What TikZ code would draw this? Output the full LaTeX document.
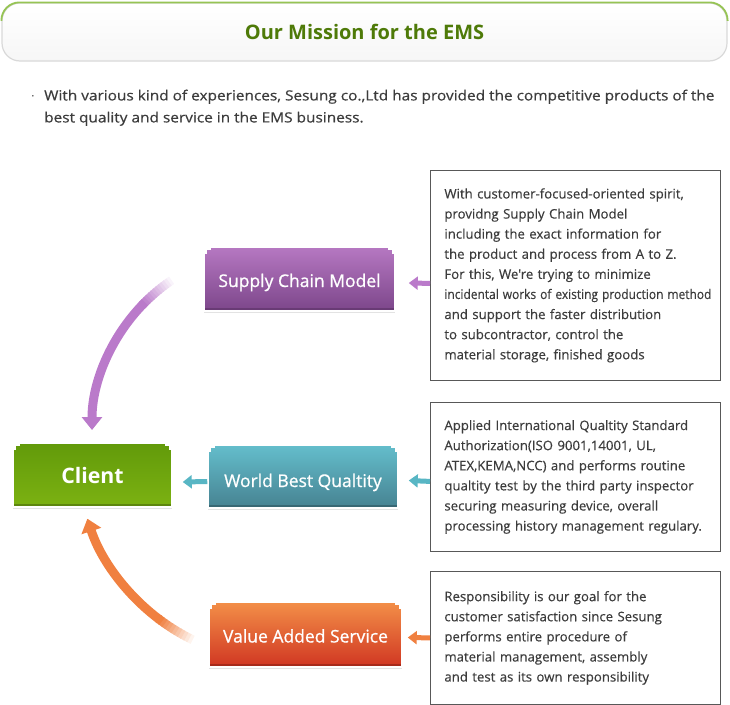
\documentclass[tikz,border=0pt]{standalone}
\usepackage{fontspec}
\usepackage{graphicx}
\setmainfont{Open Sans}
\newfontfamily\introfont[FakeStretch=1.1,FakeBold=0.5]{Open Sans}
\newfontfamily\bodyfont[FakeBold=0.4]{Open Sans}
\newfontfamily\tagfont[FakeBold=0.8]{Open Sans}
\usetikzlibrary{arrows.meta,calc,shadows}
\definecolor{leafgreen}{RGB}{78,122,8}
\definecolor{rimgreen}{RGB}{150,196,84}
\definecolor{inkgray}{RGB}{60,60,60}
\definecolor{framegray}{RGB}{88,88,88}
\definecolor{plumtop}{RGB}{182,120,194}
\definecolor{plumbot}{RGB}{124,70,138}
\definecolor{plum}{RGB}{186,122,202}
\definecolor{grasstop}{RGB}{98,154,10}
\definecolor{grassbot}{RGB}{124,178,18}
\definecolor{tealtop}{RGB}{100,190,204}
\definecolor{tealbot}{RGB}{70,130,145}
\definecolor{aqua}{RGB}{88,182,196}
\definecolor{embertop}{RGB}{243,143,72}
\definecolor{emberbot}{RGB}{208,54,34}
\definecolor{ember}{RGB}{240,128,64}
\tikzset{notched/.style={path picture={
  \fill[white] (path picture bounding box.north west) rectangle ++(7pt,-3pt);
  \fill[white] (path picture bounding box.north west) rectangle ++(3pt,-7pt);
  \fill[white] (path picture bounding box.north east) rectangle ++(-7pt,-3pt);
  \fill[white] (path picture bounding box.north east) rectangle ++(-3pt,-7pt);
  \fill[#1] ([yshift=3pt]path picture bounding box.south west) rectangle (path picture bounding box.south east);}}}

\begin{document}
\begin{tikzpicture}[x=1pt,y=-1pt,line cap=round,
  tag/.style={minimum height=64pt,text=white,font=\tagfont\fontsize{17.5}{18}\selectfont,text height=16pt,text depth=0pt,
    draw=white,line width=1.5pt,drop shadow={shadow xshift=0pt,shadow yshift=-2pt,opacity=0.22}},
  note/.style={draw=framegray,line width=0.8pt,text width=262pt,inner xsep=14pt,align=left,text=inkgray,
    font=\bodyfont\fontsize{13.2}{20.1}\selectfont,anchor=north west},
  dart/.style={line width=5pt,line cap=butt,-{Triangle[width=13pt,length=9pt]}},
  sweep/.style={line width=9pt,line cap=butt}]
  \useasboundingbox (0,0) rectangle (730,704);
  % banner
  \node[minimum width=725pt,minimum height=58pt,rounded corners=18pt,draw=gray!30,line width=1.2pt,
    top color=white,bottom color=gray!7,text=leafgreen,font=\bfseries\fontsize{20}{22}\selectfont]
    (title) at (364.5,32) {Our Mission for the EMS};
  \begin{scope}
    \clip (0,0) rectangle (730,20);
    \draw[rimgreen,line width=1.8pt,rounded corners=18pt] (title.south west) rectangle (title.north east);
  \end{scope}
  \node[anchor=north west,inner sep=0pt,align=left,text=inkgray,font=\introfont\fontsize{14}{22}\selectfont] (intro) at (44,89.5)
    {With various kind of experiences, Sesung co.,Ltd has provided the competitive products of the\\
     best quality and service in the EMS business.};
  \node[anchor=base,inner sep=0pt,text=inkgray,font=\fontsize{12}{14}\selectfont] (dot) at (33,100) {·};

  % detail boxes
  \node[note,minimum height=210pt] (box1) at (430,170) {With customer-focused-oriented spirit,\\
    providng Supply Chain Model\\
    including the exact information for\\
    the product and process from A to Z.\\
    For this, We're trying to minimize\\
    \resizebox{267pt}{\height}{incidental works of existing production method}\\
    and support the faster distribution\\
    to subcontractor, control the\\
    material storage, finished goods};
  \node[note,minimum height=149pt] (box2) at (430,402) {Applied International Qualtity Standard\\
    Authorization(ISO 9001,14001, UL,\\
    ATEX,KEMA,NCC) and performs routine\\
    qualtity test by the third party inspector\\
    securing measuring device, overall\\
    processing history management regulary.};
  \node[note,minimum height=133pt] (box3) at (430,571) {Responsibility is our goal for the\\
    customer satisfaction since Sesung\\
    performs entire procedure of\\
    material management, assembly\\
    and test as its own responsibility};

  % coloured tags
  \node[tag,minimum width=191pt,top color=plumtop,bottom color=plumbot,notched=plumbot!85!black] (scm) at (299.5,279) {Supply Chain Model};
  \node[tag,minimum width=159pt,top color=grasstop,bottom color=grassbot,notched=grassbot!75!black,
    font=\bfseries\fontsize{21.3}{24}\selectfont] (client) at (92.5,475) {Client};
  \node[tag,minimum width=190pt,minimum height=63pt,top color=tealtop,bottom color=tealbot,notched=tealbot!80!black,text height=21pt] (wbq) at (303,476.5) {World Best Qualtity};
  \node[tag,minimum width=193pt,minimum height=65pt,top color=embertop,bottom color=emberbot,notched=emberbot!80!black] (vas) at (305.5,634.5) {Value Added Service};

  % short arrows
  \draw[dart,plum] ($(box1.west)+(0,8)$) -- ($(scm.east)+(13,4)$);
  \draw[dart,aqua] ($(box2.west)+(0,4.5)$) -- ($(wbq.east)+(10,4)$);
  \draw[dart,aqua] ($(wbq.west)+(0,5)$) -- ($(client.east)+(10,7)$);
  \draw[dart,ember] (box3.west) -- ($(vas.east)+(5,3)$);

  % sweeping arrows into the client
  \coordinate (hubA) at (272.6,430);
  \coordinate (hubB) at (282.7,455.2);
  \foreach \i in {0,...,11}{
    \pgfmathsetmacro\pc{100*(\i+1)/12}
    \pgfmathsetmacro\aa{236-\i}
    \pgfmathsetmacro\ab{234.7-\i}
    \draw[sweep,plum!\pc!white] ($(hubA)+(\aa:180.6)$) arc[start angle=\aa,end angle=\ab,radius=180.6];
  }
  \draw[sweep,plum,-{Triangle[width=20pt,length=13pt]}] ($(hubA)+(224.5:180.6)$) arc[start angle=224.5,end angle=180,radius=180.6];
  \foreach \i in {0,...,10}{
    \pgfmathsetmacro\pc{100*(\i+1)/11}
    \pgfmathsetmacro\aa{116+\i}
    \pgfmathsetmacro\ab{117.3+\i}
    \draw[sweep,ember!\pc!white] ($(hubB)+(\aa:205.4)$) arc[start angle=\aa,end angle=\ab,radius=205.4];
  }
  \draw[sweep,ember,-{Triangle[width=20pt,length=13pt]}] ($(hubB)+(126.8:205.4)$) arc[start angle=126.8,end angle=162,radius=205.4];
\end{tikzpicture}
\end{document}
